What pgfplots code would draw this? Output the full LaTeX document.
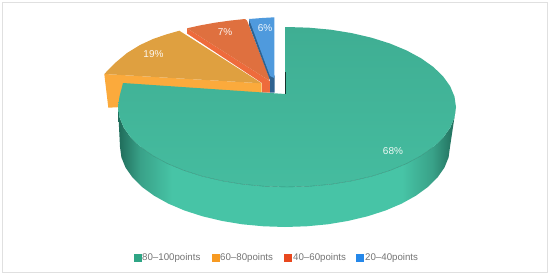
\documentclass[border=0pt]{standalone}
\usepackage{pgfplots}
\pgfplotsset{compat=1.18}
\usepackage{fontspec}
\setmainfont{Liberation Sans}
\definecolor{gtopA}{HTML}{3FAE93}
\definecolor{gtopB}{HTML}{45BC9F}
\definecolor{gside}{HTML}{47C4A6}
\definecolor{gdark}{HTML}{216F5D}
\definecolor{oTop}{HTML}{DFA040}
\definecolor{oSide}{HTML}{FBAA3C}
\definecolor{rTop}{HTML}{DF703F}
\definecolor{rSide}{HTML}{EE6B3C}
\definecolor{bTop}{HTML}{4F9ADD}
\definecolor{bSide}{HTML}{2E6290}
\definecolor{lg}{HTML}{2FA585}
\definecolor{lo}{HTML}{F79A22}
\definecolor{lr}{HTML}{E8481E}
\definecolor{lb}{HTML}{2588EA}
\pgfdeclarehorizontalshading{sidegreen}{100bp}{
  color(0bp)=(gdark);
  color(25.3bp)=(gdark);
  color(28.3bp)=(gtopA!80!gdark);
  color(33bp)=(gside);
  color(50bp)=(gside);
  color(67bp)=(gside);
  color(71.5bp)=(gtopA!80!gdark);
  color(74.7bp)=(gdark);
  color(100bp)=(gdark)}
\begin{document}
\begin{tikzpicture}
\path[use as bounding box] (0,0) rectangle (550pt,276pt);
\begin{axis}[
  at={(0,0)}, anchor=south west,
  scale only axis, width=550pt, height=276pt,
  xmin=0, xmax=550, ymin=0, ymax=276, y dir=reverse,
  hide axis, clip=true,
  every axis plot/.append style={line width=0pt}]
% frame rules
\addplot[color=black!12, line width=1pt] coordinates {(2,2.5) (547,2.5) (547,272.5) (2,272.5) (2,2.5)};
% orange
\addplot[draw=none, fill=oSide] coordinates {(104.3,74) (261.7,83.3) (261.7,100) (108.3,107.7) (104.3,74)};
\addplot[draw=none, fill=oTop] coordinates {(104.3,74) (115,63) (127,53) (140,45) (153,39) (166,34.5) (179.3,30.7) (261.7,83.3) (104.3,74)};
% red
\addplot[draw=none, fill=rSide] coordinates {(187,28.3) (187,33.5) (262,83) (262,92.5) (270,92.5) (270,81) (268.3,80) (187,28.3)};
\addplot[draw=none, fill=rTop] coordinates {(187,28.3) (200,25.4) (215,22.7) (230,20.6) (245,19) (247,20.5) (270,79) (268.3,80) (187,28.3)};
% blue
\addplot[draw=none, fill=bSide] coordinates {(249,19) (249,25) (270,80) (270,92.5) (274.5,92.5) (274.5,76) (249,19)};
\addplot[draw=none, fill=bTop] coordinates {(249,19) (262,18) (274.3,17.3) (274.3,78) (270,76) (249,19)};
% green side
\addplot[draw=none, shading=sidegreen] coordinates {
 (456,107) (454.5,117.4) (450.2,127.7) (443.1,137.6) (433.4,147) (421.1,155.7) (406.5,163.6) (389.9,170.5) (371.5,176.3) (351.7,180.9) (330.7,184.3) (309.1,186.3) (287,187) (264.9,186.3) (243.3,184.3) (222.3,180.9) (202.5,176.3) (184.1,170.5) (167.5,163.6) (152.9,155.7) (140.6,147) (130.9,137.6) (123.8,127.7) (119.5,117.4) (118,107)
 (120,147) (121.4,157.4) (125.6,167.7) (132.6,177.6) (142.1,187) (154.1,195.7) (168.3,203.6) (184.5,210.5) (202.5,216.3) (221.9,220.9) (242.3,224.3) (263.5,226.3) (285,227)
 (306.5,226.3) (327.7,224.3) (348.1,220.9) (367.5,216.3) (385.5,210.5) (401.7,203.6) (415.9,195.7) (427.9,187) (437.4,177.6) (444.4,167.7) (448.6,157.4) (450,147) (456,107)};
% green top
\addplot[draw=none, top color=gtopA, bottom color=gtopB] coordinates {
 (285,27) (287,27) (309.1,27.7) (330.7,29.7) (351.7,33.1) (371.5,37.7) (389.9,43.5) (406.5,50.4) (421.1,58.3) (433.4,67) (443.1,76.4) (450.2,86.3) (454.5,96.6) (456,107) (454.5,117.4) (450.2,127.7) (443.1,137.6) (433.4,147) (421.1,155.7) (406.5,163.6) (389.9,170.5) (371.5,176.3) (351.7,180.9) (330.7,184.3) (309.1,186.3) (287,187) (264.9,186.3) (243.3,184.3) (222.3,180.9) (202.5,176.3) (184.1,170.5) (167.5,163.6) (152.9,155.7) (140.6,147) (130.9,137.6) (123.8,127.7) (119.5,117.4) (118,107) (119.5,96.6) (123,83) (285,94) (285,27)};
% front edge line of the top face
\addplot[color=gtopA!85!black, line width=0.4pt] coordinates {(433.4,147) (421.1,155.7) (406.5,163.6) (389.9,170.5) (371.5,176.3) (351.7,180.9) (330.7,184.3) (309.1,186.3) (287,187) (264.9,186.3) (243.3,184.3) (222.3,180.9) (202.5,176.3) (184.1,170.5) (167.5,163.6) (152.9,155.7) (140.6,147)};
\addplot[color=black!70!gtopA, line width=0.5pt] coordinates {(285,72) (285,94)};
% labels
\node[text=white!92!gtopA, font=\fontsize{10pt}{11pt}\selectfont] at (axis cs:393,151) {68\%};
\node[text=white!92!oTop, font=\fontsize{10pt}{11pt}\selectfont] at (axis cs:153.5,54) {19\%};
\node[text=white!92!rTop, font=\fontsize{10pt}{11pt}\selectfont] at (axis cs:225,32.5) {7\%};
\node[text=white!92!bTop, font=\fontsize{10pt}{11pt}\selectfont] at (axis cs:265,28) {6\%};
% legend
\addplot[only marks, mark=square*, mark size=3.5pt, color=lg] coordinates {(137.5,257.5)};
\addplot[only marks, mark=square*, mark size=3.5pt, color=lo] coordinates {(215.5,257.5)};
\addplot[only marks, mark=square*, mark size=3.5pt, color=lr] coordinates {(288,257.5)};
\addplot[only marks, mark=square*, mark size=3.5pt, color=lb] coordinates {(360,257.5)};
\foreach \x/\t in {142/80--100points,220/60--80points,293/40--60points,365/20--40points}{
  \edef\temp{\noexpand\node[anchor=west, inner sep=0pt, text=black!55, font=\noexpand\fontsize{9.7pt}{11pt}\noexpand\selectfont] at (axis cs:\x,257.5) {\t};}\temp}
\end{axis}
\end{tikzpicture}
\end{document}
